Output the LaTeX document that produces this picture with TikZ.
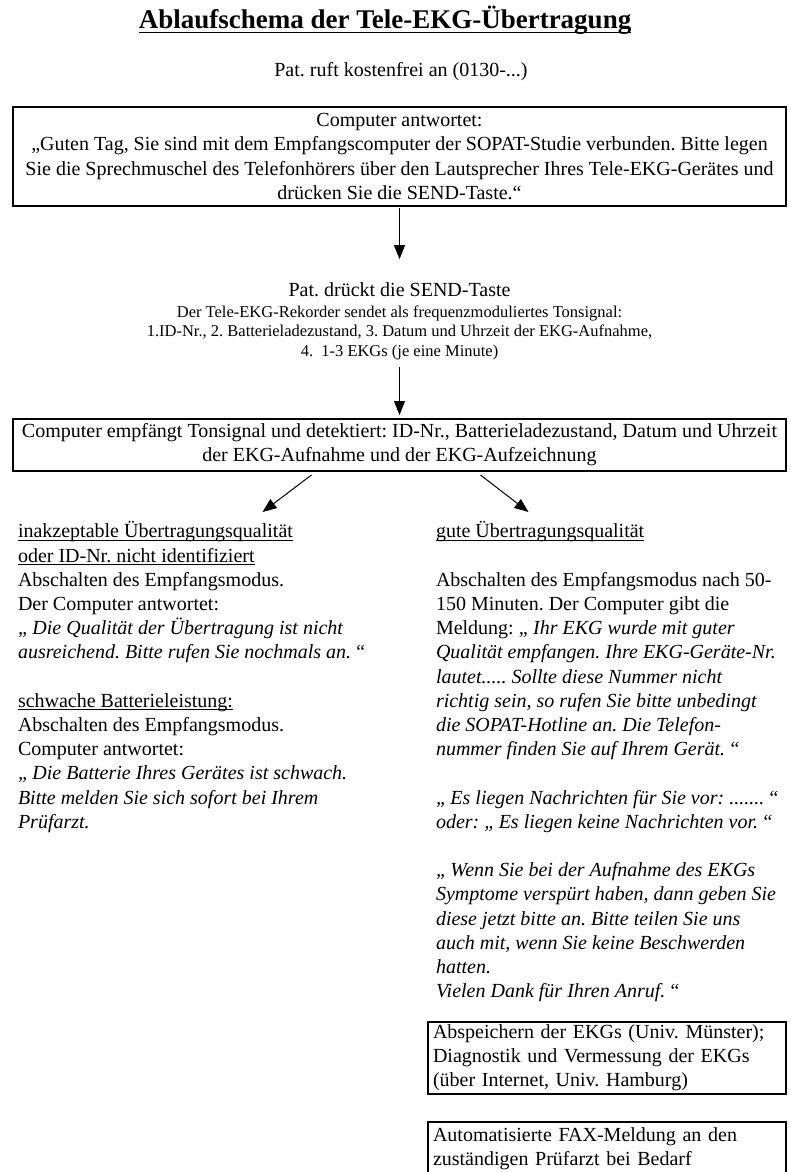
\documentclass[tikz,border=0pt]{standalone}
\usepackage{fontspec}
\setmainfont{Liberation Serif}
\usetikzlibrary{arrows.meta}
\frenchspacing

\newcommand{\ulin}[2][3pt]{\setbox0\hbox{#2}\rlap{\rule[-#1]{\wd0}{0.06em}}\box0}

\begin{document}
\begin{tikzpicture}[x=1pt, y=-1pt]
\tikzset{ >={Triangle[width=11pt,length=14pt]}, inner sep=0pt, outer sep=0pt,
  body/.style={font=\fontsize{20}{24.2}\selectfont},
  small/.style={font=\fontsize{16.5}{19.6}\selectfont},
  box/.style={draw, line width=1.2pt, body},
  arr/.style={->, line width=1pt},
}

\path [use as bounding box, clip] (0,0) rectangle (790,1172);

%\draw [lightgray, dashed] (0,0) grid[step=50] (790,1172);

\node [anchor=base, font=\bfseries\fontsize{27}{32}\selectfont] (title) at (385,29)
  {\ulin[4.5pt]{Ablaufschema der Tele-EKG-Übertragung}};

\node [anchor=base, body] (call) at (401,77) {Pat. ruft kostenfrei an (0130-...)};

\node [box, minimum width=773, minimum height=99, align=center] (greet) at (399.5,156.5)
  {Computer antwortet:\\
   „Guten Tag, Sie sind mit dem Empfangscomputer der SOPAT-Studie verbunden. Bitte legen\\
   Sie die Sprechmuschel des Telefonhörers über den Lautsprecher Ihres Tele-EKG-Gerätes und\\
   drücken Sie die SEND-Taste.“};

\node [anchor=base, body] (send) at (399.5,296) {Pat. drückt die SEND-Taste};
\node [anchor=north, small, align=center] (info) at (399.5,305.5)
  {Der Tele-EKG-Rekorder sendet als frequenzmoduliertes Tonsignal:\\
   1.ID-Nr., 2. Batterieladezustand, 3. Datum und Uhrzeit der EKG-Aufnahme,\\
   4.\enspace 1-3 EKGs (je eine Minute)};

\node [box, minimum width=773, minimum height=52, align=center] (recv) at (399.5,445)
  {Computer empfängt Tonsignal und detektiert: ID-Nr., Batterieladezustand, Datum und Uhrzeit\\
   der EKG-Aufnahme und der EKG-Aufzeichnung};

% linke Spalte
\node [anchor=north west, body, align=left] (bad) at (18,521)
  {\strut\ulin{inakzeptable Übertragungsqualität}\\
   \ulin{oder ID-Nr. nicht identifiziert}\\
   Abschalten des Empfangsmodus.\\
   Der Computer antwortet:\\
   \textit{„\,Die Qualität der Übertragung ist nicht}\\
   \textit{ausreichend. Bitte rufen Sie nochmals an.\,“}\\[24.2pt]
   \ulin{schwache Batterieleistung:}\\
   Abschalten des Empfangsmodus.\\
   Computer antwortet:\\
   \textit{„\,Die Batterie Ihres Gerätes ist schwach.}\\
   \textit{Bitte melden Sie sich sofort bei Ihrem}\\
   \textit{Prüfarzt.}};

% rechte Spalte
\node [anchor=north west, body, align=left] (good) at (436,521)
  {\strut\ulin{gute Übertragungsqualität}\\[24.2pt]
   Abschalten des Empfangsmodus nach 50-\\
   150 Minuten. Der Computer gibt die\\
   Meldung: \textit{„\,Ihr EKG wurde mit guter}\\
   \textit{Qualität empfangen. Ihre EKG-Geräte-Nr.}\\
   \textit{lautet..... Sollte diese Nummer nicht}\\
   \textit{richtig sein, so rufen Sie bitte unbedingt}\\
   \textit{die SOPAT-Hotline an. Die Telefon-}\\
   \textit{nummer finden Sie auf Ihrem Gerät.\,“}\\[24.2pt]
   \textit{„\,Es liegen Nachrichten für Sie vor: .......\,“}\\
   \textit{oder: „\,Es liegen keine Nachrichten vor.\,“}\\[24.2pt]
   \textit{„\,Wenn Sie bei der Aufnahme des EKGs}\\
   \textit{Symptome verspürt haben, dann geben Sie}\\
   \textit{diese jetzt bitte an. Bitte teilen Sie uns}\\
   \textit{auch mit, wenn Sie keine Beschwerden}\\
   \textit{hatten.}\\
   \textit{Vielen Dank für Ihren Anruf.\,“}};

\node [box, anchor=north west, minimum height=72, text width=348, align=left, inner xsep=5pt] (store) at (428,1022)
  {Abspeichern der EKGs (Univ. Münster);\\
   Diagnostik und Vermessung der EKGs\\
   (über Internet, Univ. Hamburg)};

% Kasten laeuft unten aus dem Bild
\node [box, anchor=north west, text width=348, align=left, inner xsep=5pt, inner ysep=5.5pt, text depth=40pt] (fax) at (428,1122)
  {Automatisierte FAX-Meldung an den\\
   zuständigen Prüfarzt bei Bedarf};

\draw [arr, shorten <=2pt, shorten >=23pt] (greet) -- (send);
\draw [arr, shorten <=7pt, shorten >=4pt] (info) -- (recv);
\draw [arr] ([shift={(-88,4)}]recv.south) -- ++(-49,37);
\draw [arr] ([shift={(81,4)}]recv.south) -- ++(48,37);

\end{tikzpicture}
\end{document}
